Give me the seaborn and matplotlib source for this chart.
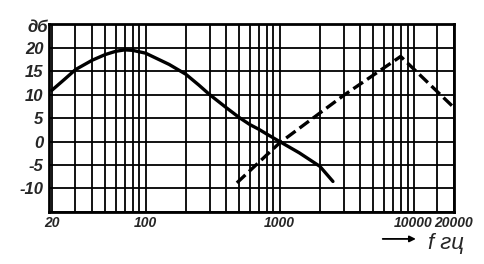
import numpy as np
import pandas as pd
import matplotlib
matplotlib.use("Agg")
import matplotlib.pyplot as plt
import seaborn as sns

# Data
solid_f = [20, 25, 30, 40, 50, 60, 70, 80, 100, 150, 200, 250, 300, 400, 500, 600, 700, 800, 1000, 1400, 2000, 2500]
solid_db = [10.9, 13.3, 15.3, 17.3, 18.5, 19.2, 19.5, 19.4, 18.8, 16.4, 14.3, 12.0, 10.0, 7.2, 5.1, 3.6, 2.6, 1.6, 0.0, -2.4, -5.3, -8.5]
dash_f = [480, 1000, 3000, 8000, 20000]
dash_db = [-8.8, -0.3, 9.8, 18.1, 7.2]
ytick_vals = [-10, -5, 0, 5, 10, 15, 20]
xtick_vals = [20, 100, 1000, 10000, 20000]
xtick_labels = ["20", "100", "1000", "10000", "20000"]

sns.set_theme(style="white")
plt.rcParams['font.family'] = ['Liberation Sans', 'DejaVu Sans']
plt.rcParams['axes.unicode_minus'] = False

fig = plt.figure(figsize=(4.84, 2.64), dpi=100)
ax = fig.add_axes([0.101, 0.197, 0.837, 0.712])

# grid
xgrid = [m * 10**e for e in range(1, 5) for m in range(1, 10)]
xgrid = [g for g in xgrid if 20 <= g <= 10000] + [15000, 20000]
for g in xgrid:
    ax.axvline(g, color="black", lw=1.3, zorder=1)
for g in range(-15, 30, 5):
    ax.axhline(g, color="black", lw=1.3, zorder=1)

df1 = pd.DataFrame({"f": solid_f, "db": solid_db})
df2 = pd.DataFrame({"f": dash_f, "db": dash_db})
sns.lineplot(data=df1, x="f", y="db", ax=ax, color="black", lw=2.4, sort=False, zorder=3)
sns.lineplot(data=df2, x="f", y="db", ax=ax, color="black", lw=2.4, sort=False, zorder=3,
             linestyle=(0, (3.5, 1.5)))

ax.set_xscale("log")
ax.set_xlim(19.0, 20000)
ax.set_ylim(-15, 25)
ax.set_xticks(xtick_vals)
ax.set_xticklabels(xtick_labels)
ax.xaxis.set_minor_locator(matplotlib.ticker.NullLocator())
ax.set_yticks(ytick_vals)
ax.set_yticklabels([str(v) for v in ytick_vals])
ax.tick_params(axis="y", length=0, pad=4, labelsize=12)
ax.tick_params(axis="x", length=0, pad=3, labelsize=10)
for lab in ax.get_xticklabels() + ax.get_yticklabels():
    lab.set_fontstyle("italic")
    lab.set_fontweight("bold")
xl = ax.get_xticklabels()
xl[3].set_x(9000)
ax.set_xlabel("")
ax.set_ylabel("")
for s in ax.spines.values():
    s.set_linewidth(2)
    s.set_color("black")

fig.text(0.078, 0.894, "дб", fontsize=12, fontstyle="italic", fontweight="bold", ha="center", va="center")
fig.text(0.922, 0.078, "f гц", fontsize=16, fontstyle="italic", ha="center", va="center")
fig.add_artist(matplotlib.patches.FancyArrowPatch((0.785, 0.095), (0.865, 0.095), transform=fig.transFigure,
                                                  arrowstyle="-|>", mutation_scale=9, color="black", lw=1.3))

fig.savefig("out.png", dpi=100, facecolor="white")
